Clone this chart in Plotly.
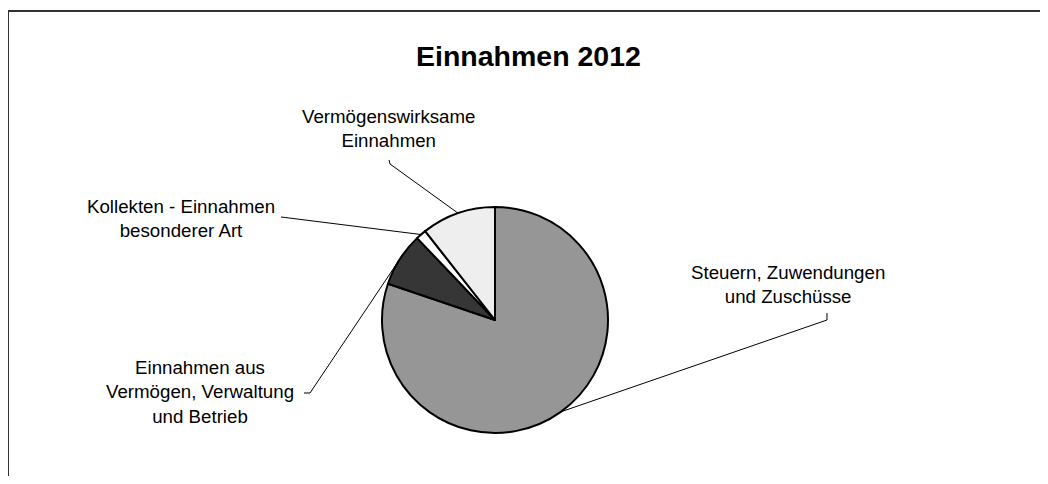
import math
import plotly.graph_objects as go

# page body has an 8px margin; keep the figure inside the window
OFF = 8
W, H = 1048 - 2 * OFF, 484 - 2 * OFF

# Data (shares in percent)
labels = [
    "Steuern, Zuwendungen<br>und Zuschüsse",
    "Einnahmen aus<br>Vermögen, Verwaltung<br>und Betrieb",
    "Kollekten - Einnahmen<br>besonderer Art",
    "Vermögenswirksame<br>Einnahmen",
]
values = [80.2, 7.7, 1.5, 10.6]
colors = ["#969696", "#363636", "#ffffff", "#eeeeee"]
title_text = "Einnahmen 2012"

# Layout (page pixel geometry)
cx, cy, r = 495, 320, 113


def px(x):
    return (x - OFF) / W


def py(y):
    return 1 - (y - OFF) / H


fig = go.Figure()
fig.add_trace(go.Pie(
    labels=labels,
    values=values,
    sort=False,
    direction="clockwise",
    rotation=0,
    marker=dict(colors=colors, line=dict(color="#000000", width=2)),
    textinfo="none",
    hoverinfo="label+percent",
    showlegend=False,
    domain=dict(x=[px(cx - r), px(cx + r)], y=[py(cy + r), py(cy - r)]),
))

label_pos = [
    (788, 284),
    (200, 392),
    (181, 219),
    (388, 129),
]
leader_pts = [
    [(827, 313), (827, 320)],
    [(304, 393), (310, 393)],
    [(281, 217)],
    [(389, 160), (390, 164)],
]

shapes = []
shapes.append(dict(type="rect", xref="paper", yref="paper",
                   x0=px(8), y0=py(11), x1=px(1048 + 30), y1=py(484 + 30),
                   line=dict(color="#333333", width=2), fillcolor="rgba(0,0,0,0)"))

total = sum(values)
cum = 0.0
for i, v in enumerate(values):
    mid = (cum + v / 2) / total * 2 * math.pi
    cum += v
    ex = cx + r * math.sin(mid)
    ey = cy - r * math.cos(mid)
    pts = leader_pts[i] + [(ex, ey)]
    path = "M " + " L ".join(f"{px(a):.5f},{py(b):.5f}" for a, b in pts)
    shapes.append(dict(type="path", xref="paper", yref="paper", path=path,
                       line=dict(color="#000000", width=1)))

annotations = []
for lab, (lx, ly) in zip(labels, label_pos):
    annotations.append(dict(text=lab, x=px(lx), y=py(ly), xref="paper", yref="paper",
                            showarrow=False, xanchor="center", yanchor="middle",
                            align="center",
                            font=dict(family="Liberation Sans, Arial", size=18.7, color="#000000")))

annotations.append(dict(text="<b>" + title_text + "</b>", x=px(528), y=py(56),
                        xref="paper", yref="paper", showarrow=False,
                        xanchor="center", yanchor="middle",
                        font=dict(family="Liberation Sans, Arial", size=28.5, color="#000000")))

fig.update_layout(
    width=W, height=H,
    margin=dict(l=0, r=0, t=0, b=0),
    paper_bgcolor="#ffffff",
    plot_bgcolor="#ffffff",
    shapes=shapes,
    annotations=annotations,
)

fig.write_html("out.html")
